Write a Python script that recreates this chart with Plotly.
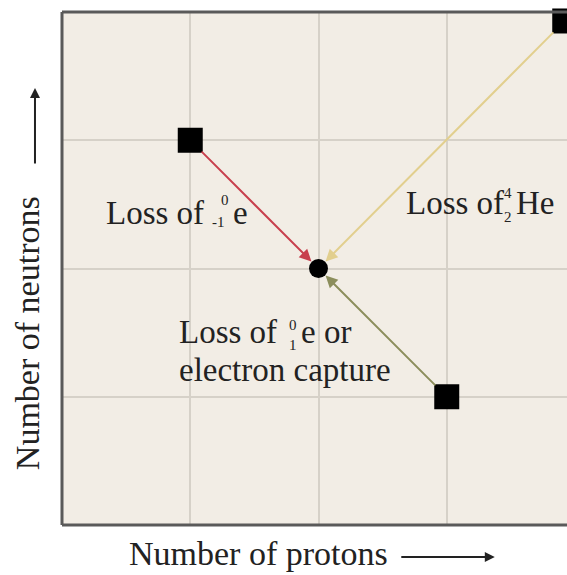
import plotly.graph_objects as go

# Data (proton number, neutron number) in grid units
parent_x = [1, 3, 3.92]
parent_y = [3, 1, 3.93]
daughter_x = [2]
daughter_y = [2]
arrow_colors = ["#c8404e", "#8c8e5c", "#e2cf8e"]

FONT = "Liberation Serif"
FS = 33
FS_AX = 34
SMALL = 15
TXT = "#222222"

fig = go.Figure()
fig.add_trace(go.Scatter(x=parent_x, y=parent_y, mode="markers",
                         marker=dict(symbol="square", size=25, color="black"),
                         cliponaxis=False, hoverinfo="skip"))
fig.add_trace(go.Scatter(x=daughter_x, y=daughter_y, mode="markers",
                         marker=dict(symbol="circle", size=19, color="black"),
                         cliponaxis=False, hoverinfo="skip"))

ann = []
for px, py, c in zip(parent_x, parent_y, arrow_colors):
    ann.append(dict(x=daughter_x[0], y=daughter_y[0], ax=px, ay=py,
                    xref="x", yref="y", axref="x", ayref="y", text="",
                    showarrow=True, arrowhead=2, arrowsize=1.2, arrowwidth=2,
                    arrowcolor=c, standoff=10, startstandoff=14))

def t(x, y, s, size=FS, anchor="left"):
    ann.append(dict(x=x, y=y, xref="x", yref="y", text=s, showarrow=False,
                    xanchor=anchor, yanchor="middle", borderpad=0,
                    font=dict(family=FONT, size=size, color=TXT)))

# Loss of beta-
t(0.335, 2.433, "Loss of")
t(1.271, 2.534, "0", SMALL, "center")
t(1.224, 2.363, "-1", SMALL, "center")
t(1.325, 2.433, "e")
# Loss of alpha
t(2.674, 2.511, "Loss of")
t(3.475, 2.589, "4", SMALL, "center")
t(3.475, 2.402, "2", SMALL, "center")
t(3.53, 2.511, "He")
# Loss of positron
t(0.904, 1.505, "Loss of")
t(1.801, 1.559, "0", SMALL, "center")
t(1.801, 1.404, "1", SMALL, "center")
t(1.856, 1.505, "e or")
t(0.904, 1.209, "electron capture")

# axis titles with arrows
ann.append(dict(x=0.390, y=-0.0546, xref="paper", yref="paper", text="Number of protons",
                showarrow=False, xanchor="center", yanchor="middle",
                font=dict(family=FONT, size=FS_AX, color=TXT)))
ann.append(dict(x=0.857, y=-0.0624, xref="paper", yref="paper", text="", showarrow=True,
                ax=-95, ay=0, arrowhead=2, arrowsize=1, arrowwidth=2, arrowcolor="#222"))
ann.append(dict(x=-0.0693, y=0.374, xref="paper", yref="paper", text="Number of neutrons",
                showarrow=False, textangle=-90, xanchor="center", yanchor="middle",
                font=dict(family=FONT, size=FS_AX, color=TXT)))
ann.append(dict(x=-0.0535, y=0.852, xref="paper", yref="paper", text="", showarrow=True,
                ax=0, ay=77, arrowhead=2, arrowsize=1, arrowwidth=2, arrowcolor="#222"))

frame = dict(color="#5a5a5a", width=3)
shapes = [
    dict(type="line", xref="paper", yref="paper", x0=0, y0=0, x1=0, y1=1, line=frame),
    dict(type="line", xref="paper", yref="paper", x0=0, y0=0, x1=1, y1=0, line=frame),
    dict(type="line", xref="paper", yref="paper", x0=0, y0=1, x1=1, y1=1, line=frame),
]

fig.update_layout(
    width=567, height=575,
    margin=dict(l=62, r=0, t=12, b=50),
    paper_bgcolor="white", plot_bgcolor="#f2ede5",
    showlegend=False,
    annotations=ann, shapes=shapes,
    xaxis=dict(range=[0, 3.9376], tickvals=[1, 2, 3], showticklabels=False, ticks="",
               showgrid=True, gridcolor="#d6d1c8", gridwidth=2, zeroline=False, showline=False,
               fixedrange=True),
    yaxis=dict(range=[0, 4], tickvals=[1, 2, 3], showticklabels=False, ticks="",
               showgrid=True, gridcolor="#d6d1c8", gridwidth=2, zeroline=False, showline=False,
               fixedrange=True),
)
fig.write_html("out.html", config={"displayModeBar": False},
               post_script="document.body.style.margin='0';document.body.style.overflow='hidden';")
